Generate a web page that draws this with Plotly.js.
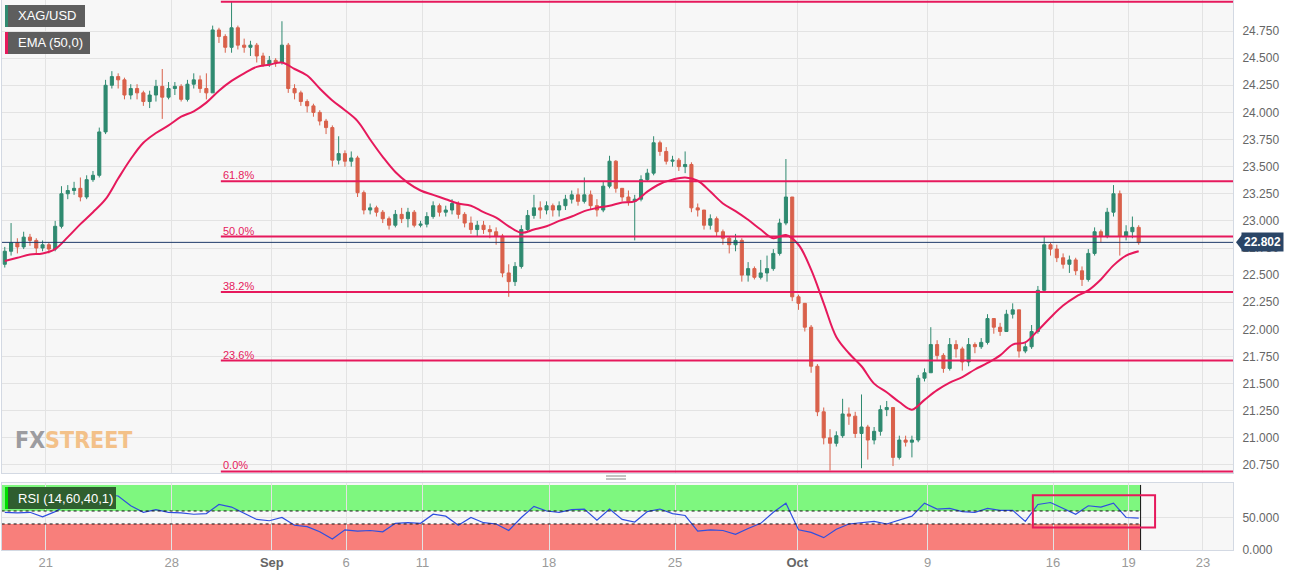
<!DOCTYPE html>
<html>
<head>
<meta charset="utf-8">
<script src="https://cdn.plot.ly/plotly-3.0.1.min.js"></script>
<style>
  html, body { margin: 0; padding: 0; background: #fff; }
  #chart { width: 1310px; height: 577px; }
</style>
</head>
<body>
<div id="chart"></div>
<script>
// XAG/USD, 6-hour candles (Aug 17 -> Oct 19)
var firstOpen = 22.60;
var closes = [
  22.72, 22.80, 22.76, 22.85, 22.82, 22.75, 22.78, 22.74, 22.95, 23.25,
  23.28, 23.30, 23.22, 23.38, 23.42, 23.82, 24.25, 24.33, 24.30, 24.16,
  24.22, 24.18, 24.10, 24.16, 24.24, 24.14, 24.22, 24.24, 24.12, 24.26,
  24.30, 24.22, 24.18, 24.76, 24.70, 24.60, 24.78, 24.62, 24.60, 24.62,
  24.52, 24.44, 24.48, 24.46, 24.62, 24.22, 24.18, 24.10, 24.06, 24.00,
  23.92, 23.86, 23.56, 23.62, 23.55, 23.58, 23.26, 23.10, 23.12, 23.08,
  23.02, 22.96, 23.06, 23.02, 23.08, 22.96, 22.97, 23.04, 23.14, 23.08,
  23.10, 23.16, 23.06, 22.98, 22.92, 22.96, 22.92, 22.90, 22.86, 22.52,
  22.44, 22.58, 22.92, 23.05, 23.12, 23.10, 23.14, 23.10, 23.14, 23.20,
  23.24, 23.18, 23.24, 23.14, 23.10, 23.32, 23.55, 23.30, 23.22, 23.18,
  23.20, 23.38, 23.44, 23.72, 23.64, 23.55, 23.56, 23.50, 23.52, 23.12,
  23.10, 22.96, 23.02, 22.90, 22.84, 22.78, 22.82, 22.50, 22.56, 22.48,
  22.52, 22.56, 22.70, 22.98, 23.22, 22.30, 22.24, 22.02, 21.66, 21.24,
  21.00, 20.95, 21.02, 21.22, 21.20, 21.04, 21.10, 20.98, 21.06, 21.26,
  21.28, 20.82, 20.98, 20.96, 20.98, 21.55, 21.60, 21.86, 21.76, 21.64,
  21.86, 21.82, 21.70, 21.86, 21.84, 21.88, 22.10, 22.02, 21.98, 22.14,
  22.18, 21.80, 21.84, 21.98, 22.36, 22.78, 22.74, 22.66, 22.60, 22.64,
  22.54, 22.46, 22.70, 22.90, 22.86, 23.08, 23.25, 22.86, 22.90, 22.94,
  22.80
];
var highs = [
  22.76, 22.98, 22.84, 22.90, 22.88, 22.84, 22.82, 22.80, 23.00, 23.32,
  23.33, 23.36, 23.40, 23.42, 23.46, 23.86, 24.30, 24.38, 24.36, 24.32,
  24.26, 24.26, 24.20, 24.20, 24.30, 24.40, 24.28, 24.28, 24.26, 24.30,
  24.36, 24.34, 24.36, 24.80, 24.78, 24.72, 25.02, 24.80, 24.68, 24.66,
  24.64, 24.55, 24.52, 24.50, 24.84, 24.64, 24.26, 24.20, 24.12, 24.08,
  24.02, 23.94, 23.88, 23.78, 23.65, 23.64, 23.60, 23.28, 23.16, 23.14,
  23.10, 23.04, 23.10, 23.12, 23.12, 23.10, 23.00, 23.08, 23.18, 23.16,
  23.14, 23.20, 23.18, 23.08, 23.04, 23.00, 23.00, 22.96, 22.94, 22.88,
  22.60, 22.62, 22.96, 23.10, 23.24, 23.18, 23.18, 23.16, 23.18, 23.24,
  23.28, 23.30, 23.40, 23.28, 23.20, 23.36, 23.60, 23.56, 23.30, 23.28,
  23.24, 23.42, 23.48, 23.78, 23.74, 23.68, 23.60, 23.58, 23.64, 23.54,
  23.16, 23.10, 23.06, 23.04, 22.92, 22.86, 22.88, 22.84, 22.62, 22.58,
  22.64, 22.68, 22.74, 23.02, 23.57, 23.22, 22.32, 22.24, 22.04, 21.68,
  21.28, 21.08, 21.06, 21.36, 21.28, 21.24, 21.40, 21.12, 21.10, 21.30,
  21.34, 21.28, 21.02, 21.02, 21.02, 21.58, 21.64, 22.02, 21.90, 21.78,
  21.92, 21.90, 21.84, 21.92, 21.88, 21.92, 22.14, 22.10, 22.06, 22.18,
  22.24, 22.18, 21.88, 22.04, 22.40, 22.86, 22.80, 22.78, 22.70, 22.68,
  22.66, 22.58, 22.74, 22.94, 22.92, 23.12, 23.33, 23.28, 22.96, 23.04,
  22.96
];
var lows = [
  22.57, 22.68, 22.70, 22.74, 22.77, 22.70, 22.72, 22.70, 22.72, 22.93,
  23.20, 23.24, 23.18, 23.20, 23.36, 23.40, 23.80, 24.22, 24.22, 24.12,
  24.12, 24.12, 24.06, 24.04, 24.10, 23.94, 24.12, 24.16, 24.10, 24.10,
  24.22, 24.18, 24.12, 24.18, 24.64, 24.55, 24.55, 24.58, 24.55, 24.52,
  24.46, 24.42, 24.42, 24.42, 24.44, 24.18, 24.12, 24.06, 24.00, 23.96,
  23.88, 23.80, 23.50, 23.52, 23.50, 23.50, 23.22, 23.06, 23.06, 23.04,
  22.98, 22.92, 22.94, 22.98, 22.94, 22.94, 22.94, 22.94, 23.02, 23.04,
  23.04, 23.06, 23.02, 22.94, 22.88, 22.86, 22.88, 22.84, 22.78, 22.48,
  22.30, 22.40, 22.56, 22.90, 23.02, 23.02, 23.06, 23.04, 23.04, 23.10,
  23.16, 23.14, 23.16, 23.10, 23.04, 23.08, 23.30, 23.26, 23.18, 23.14,
  22.82, 23.18, 23.36, 23.42, 23.60, 23.52, 23.50, 23.46, 23.44, 23.08,
  23.04, 22.92, 22.92, 22.86, 22.78, 22.70, 22.72, 22.44, 22.44, 22.46,
  22.46, 22.44, 22.54, 22.68, 22.96, 22.26, 22.18, 21.98, 21.60, 21.20,
  20.94, 20.70, 20.92, 21.00, 21.12, 21.00, 20.72, 20.80, 20.94, 21.02,
  21.20, 20.74, 20.80, 20.92, 20.82, 20.96, 21.52, 21.60, 21.72, 21.60,
  21.62, 21.74, 21.62, 21.66, 21.78, 21.82, 21.86, 21.96, 21.94, 21.98,
  22.10, 21.74, 21.78, 21.82, 21.96, 22.34, 22.68, 22.62, 22.56, 22.52,
  22.50, 22.40, 22.44, 22.68, 22.80, 22.84, 23.04, 22.68, 22.82, 22.84,
  22.78
];
// EMA(50) and RSI(14), one reading every 2 candles
var ema50 = [
  22.63, 22.66, 22.69, 22.70, 22.74, 22.85, 22.97, 23.08, 23.20, 23.39,
  23.57, 23.72, 23.81, 23.88, 23.96, 24.01, 24.09, 24.20, 24.29, 24.36,
  24.42, 24.44, 24.46, 24.40, 24.34, 24.22, 24.11, 24.02, 23.92, 23.75,
  23.59, 23.45, 23.35, 23.28, 23.24, 23.20, 23.16, 23.14, 23.08, 23.03,
  22.95, 22.89, 22.92, 22.95, 23.00, 23.04, 23.09, 23.12, 23.14, 23.17,
  23.18, 23.27, 23.34, 23.38, 23.40, 23.37, 23.27, 23.16, 23.09, 23.01,
  22.92, 22.84, 22.87, 22.78, 22.55, 22.24, 21.93, 21.78, 21.66, 21.50,
  21.42, 21.33, 21.26, 21.35, 21.44, 21.51, 21.56, 21.63, 21.69, 21.76,
  21.86, 21.88, 21.99, 22.11, 22.22, 22.30, 22.36, 22.46, 22.59, 22.68,
  22.72
];
var rsi = [
  58, 57, 58, 51, 59, 70, 73, 78, 85, 83,
  68, 58, 62, 58, 57, 55, 56, 70, 66, 56,
  47, 45, 50, 38, 36, 28, 17, 31, 29, 30,
  28, 41, 42, 41, 55, 52, 38, 50, 42, 40,
  30, 50, 67, 60, 58, 62, 63, 46, 63, 47,
  43, 59, 63, 56, 53, 29, 31, 30, 24, 33,
  41, 58, 72, 31, 27, 19, 32, 40, 42, 44,
  40, 46, 52, 72, 63, 64, 59, 58, 64, 61,
  61, 44, 70, 73, 64, 55, 68, 66, 72, 50,
  49
];
var lastPrice = 22.802;
var fibLow = 20.69, fibHigh = 25.02;
var fibLevels = [0, 0.236, 0.382, 0.5, 0.618, 1];
var fibLabels = ['0.0%', '23.6%', '38.2%', '50.0%', '61.8%', '100.0%'];
var tickPos = [6.5, 26.5, 42.4, 54.2, 66.3, 86.4, 106.4, 125.8, 146.5, 166.4, 178.4, 190.2];
var tickLabels = ['21', '28', '<b><span style="color:#666">Sep</span></b>', '6', '11', '18', '25',
  '<b><span style="color:#666">Oct</span></b>', '9', '16', '19', '23'];
var priceTicks = [20.75, 21, 21.25, 21.5, 21.75, 22, 22.25, 22.5, 22.75, 23, 23.25, 23.5, 23.75, 24, 24.25, 24.5, 24.75];

var CRIMSON = '#e6195c';
var GREEN = '#2f8a70';
var RED = '#d9614b';

var idx = closes.map(function (c, i) { return i; });
var opens = [firstOpen].concat(closes.slice(0, -1));
var halfIdx = ema50.map(function (v, k) { return 2 * k; });
var lastIdx = closes.length - 1;

// pixel helpers for the fixed overlay boxes (plot area 2..1233 x 0..550)
function px(x) { return (x - 2) / 1231; }
function py(y) { return (550 - y) / 550; }

var candles = {
  type: 'candlestick', x: idx, open: opens, high: highs, low: lows, close: closes,
  xaxis: 'x', yaxis: 'y', whiskerwidth: 0,
  increasing: { line: { color: GREEN, width: 1 }, fillcolor: GREEN },
  decreasing: { line: { color: RED, width: 1 }, fillcolor: RED },
  hoverinfo: 'skip', showlegend: false
};
var emaLine = {
  type: 'scatter', mode: 'lines', x: halfIdx, y: ema50, xaxis: 'x', yaxis: 'y',
  line: { color: CRIMSON, width: 2, shape: 'spline' }, hoverinfo: 'skip', showlegend: false
};
var rsiLine = {
  type: 'scatter', mode: 'lines', x: halfIdx, y: rsi, xaxis: 'x', yaxis: 'y2',
  line: { color: '#2f4fe0', width: 1.2 }, hoverinfo: 'skip', showlegend: false
};

var shapes = [];
var annotations = [];

// RSI bands
shapes.push({ type: 'rect', xref: 'x', yref: 'y2', x0: -0.5, x1: lastIdx + 0.3, y0: 60, y1: 100, fillcolor: '#7ef77f', line: { width: 0 }, layer: 'below' });
shapes.push({ type: 'rect', xref: 'x', yref: 'y2', x0: -0.5, x1: lastIdx + 0.3, y0: 0, y1: 40, fillcolor: '#f87f7b', line: { width: 0 }, layer: 'below' });
[60, 40].forEach(function (lv) {
  shapes.push({ type: 'line', xref: 'x', yref: 'y2', x0: -0.5, x1: lastIdx + 0.3, y0: lv, y1: lv, line: { color: '#111', width: 1, dash: 'dot' } });
});
shapes.push({ type: 'line', xref: 'x', yref: 'y2', x0: lastIdx + 0.3, x1: lastIdx + 0.3, y0: 0, y1: 100, line: { color: '#111', width: 1 } });
shapes.push({ type: 'rect', xref: 'x', yref: 'y2', x0: 163.2, x1: 182.6, y0: 34.5, y1: 84, line: { color: CRIMSON, width: 2 } });

// Fibonacci retracement
fibLevels.forEach(function (lv, k) {
  var v = fibLow + (fibHigh - fibLow) * lv;
  shapes.push({ type: 'line', xref: 'x', yref: 'y', x0: 34.3, x1: 195, y0: v, y1: v, line: { color: CRIMSON, width: 2 } });
  annotations.push({ xref: 'x', yref: 'y', x: 34.3, y: v, xanchor: 'left', yanchor: 'bottom', yshift: -2,
    text: fibLabels[k], showarrow: false, font: { family: 'Liberation Sans, Arial, sans-serif', size: 11, color: CRIMSON } });
});

// last price line + tag
shapes.push({ type: 'line', xref: 'paper', yref: 'y', x0: 0, x1: 1, y0: lastPrice, y1: lastPrice, line: { color: '#1f3a6a', width: 1 } });
shapes.push({ type: 'path', xref: 'paper', yref: 'y', fillcolor: '#2a4566', line: { width: 0 },
  path: 'M ' + px(1236) + ' ' + lastPrice + ' L ' + px(1242) + ' ' + (lastPrice + 0.07) + ' L ' + px(1242) + ' ' + (lastPrice - 0.07) + ' Z' });
annotations.push({ xref: 'paper', yref: 'y', x: px(1241), y: lastPrice, xanchor: 'left', yanchor: 'middle',
  text: '<b>' + lastPrice.toFixed(3) + '</b>', showarrow: false, bgcolor: '#2a4566', borderpad: 2,
  font: { family: 'Liberation Sans, Arial, sans-serif', size: 12, color: '#fff' } });

// legend boxes
function labelBox(x0, x1, y0, y1, fill, strip, text) {
  shapes.push({ type: 'rect', xref: 'paper', yref: 'paper', x0: px(x0), x1: px(x1), y0: py(y1), y1: py(y0), fillcolor: fill, line: { width: 0 } });
  shapes.push({ type: 'rect', xref: 'paper', yref: 'paper', x0: px(x0), x1: px(x0 + 3), y0: py(y1), y1: py(y0), fillcolor: strip, line: { width: 0 } });
  annotations.push({ xref: 'paper', yref: 'paper', x: px(x0 + 11), y: py((y0 + y1) / 2), xanchor: 'left', yanchor: 'middle',
    text: text, showarrow: false, font: { family: 'Liberation Sans, Arial, sans-serif', size: 13, color: '#fff' } });
}
labelBox(5, 85, 5, 27, '#5e5e5e', GREEN, 'XAG/USD');
labelBox(5, 90, 32, 54, '#5e5e5e', CRIMSON, 'EMA (50,0)');
labelBox(5, 116, 487, 509, '#2f5e2f', '#00dd00', 'RSI (14,60,40,1)');

// panel splitter grip
[476, 479].forEach(function (y) {
  shapes.push({ type: 'line', xref: 'paper', yref: 'paper', x0: px(606), x1: px(626), y0: py(y), y1: py(y), line: { color: '#888', width: 1 } });
});

// watermark
annotations.push({ xref: 'paper', yref: 'paper', x: px(13), y: py(440), xanchor: 'left', yanchor: 'middle', showarrow: false,
  text: '<b><span style="color:#9c9ca0">FX</span><span style="color:#f3c189">STREET</span></b>',
  font: { family: 'DejaVu Sans Condensed, Liberation Sans Narrow, sans-serif', size: 23 } });

var layout = {
  width: 1310, height: 577,
  margin: { l: 2, r: 77, t: 0, b: 27 },
  paper_bgcolor: '#fff', plot_bgcolor: '#f7f7f7',
  showlegend: false, dragmode: false,
  xaxis: {
    anchor: 'y2', range: [-0.44, 194.97], tickmode: 'array', tickvals: tickPos, ticktext: tickLabels,
    showgrid: true, gridcolor: '#e3e3e3', zeroline: false, rangeslider: { visible: false },
    showline: true, linecolor: '#d3d9e3', mirror: 'all', ticks: '',
    tickfont: { family: 'Liberation Sans, Arial, sans-serif', size: 13, color: '#9a9a9a' }
  },
  yaxis: {
    domain: [0.14, 1], range: [20.676, 25.036], side: 'right', tickmode: 'array', tickvals: priceTicks,
    tickformat: '.3f', showgrid: true, gridcolor: '#e3e3e3', zeroline: false,
    showline: true, linecolor: '#d3d9e3', mirror: true, ticks: '', ticklabelstandoff: 6,
    tickfont: { family: 'Liberation Sans, Arial, sans-serif', size: 12, color: '#666' }
  },
  yaxis2: {
    domain: [0, 0.1218], range: [0, 103], side: 'right', tickmode: 'array', tickvals: [0, 50],
    tickformat: '.3f', showgrid: true, gridcolor: '#e3e3e3', zeroline: false,
    showline: true, linecolor: '#d3d9e3', mirror: true, ticks: '', ticklabelstandoff: 6,
    tickfont: { family: 'Liberation Sans, Arial, sans-serif', size: 12, color: '#666' }
  },
  shapes: shapes,
  annotations: annotations
};

Plotly.newPlot('chart', [candles, emaLine, rsiLine], layout, { displayModeBar: false, staticPlot: true });
</script>
</body>
</html>
